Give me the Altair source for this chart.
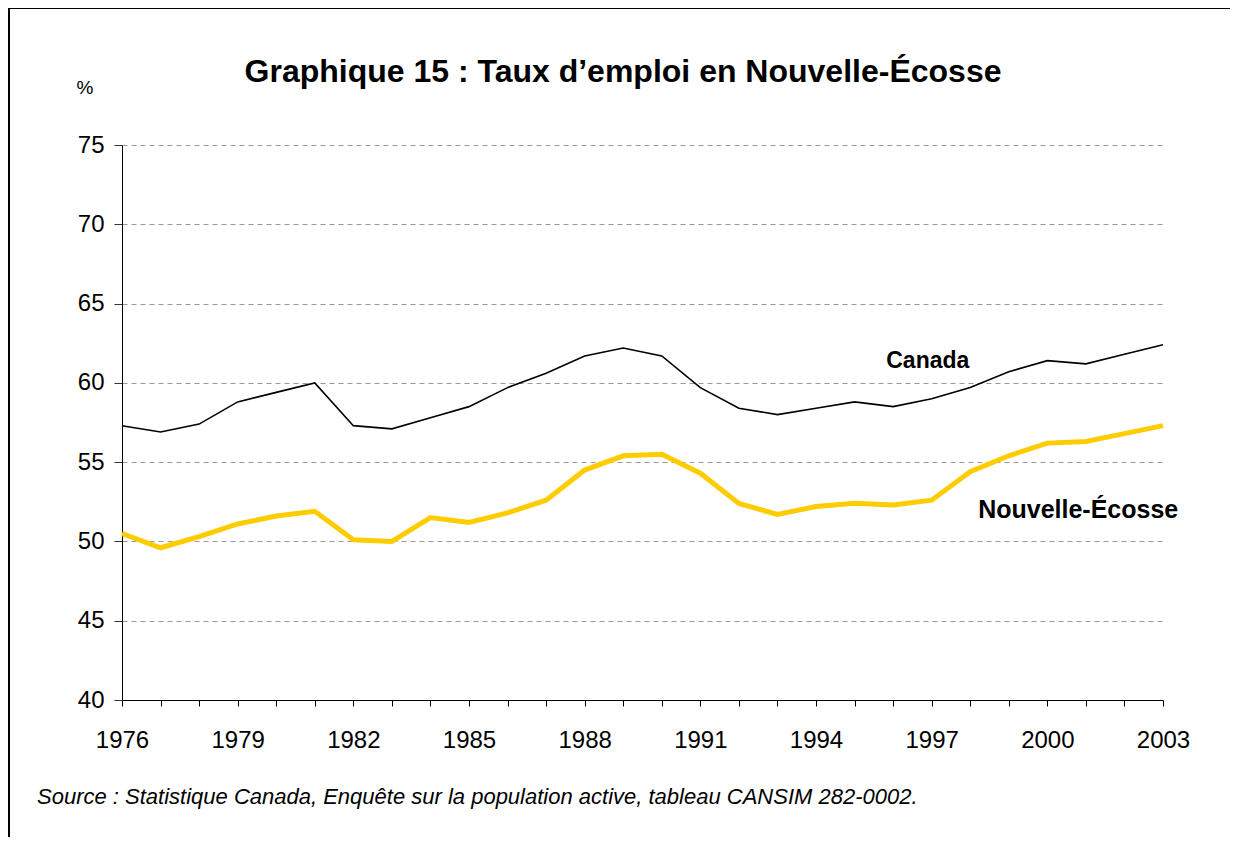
import altair as alt
import pandas as pd

years = list(range(1976, 2004))
canada = [57.3, 56.9, 57.4, 58.8, 59.4, 60.0, 57.3, 57.1, 57.8, 58.5, 59.7, 60.6, 61.7, 62.2,
          61.7, 59.7, 58.4, 58.0, 58.4, 58.8, 58.5, 59.0, 59.7, 60.7, 61.4, 61.2, 61.8, 62.4]
nouvelle_ecosse = [50.5, 49.6, 50.3, 51.1, 51.6, 51.9, 50.1, 50.0, 51.5, 51.2, 51.8, 52.6, 54.5, 55.4,
                   55.5, 54.3, 52.4, 51.7, 52.2, 52.4, 52.3, 52.6, 54.4, 55.4, 56.2, 56.3, 56.8, 57.3]
series_names = ["Canada", "Nouvelle-Écosse"]
series_colors = ["#000000", "#FFCC00"]
series_widths = [1.6, 5]
label_x = [1996.9, 2000.8]
label_y = [61.4, 52.0]

title_text = "Graphique 15 : Taux d’emploi en Nouvelle-Écosse"
source_text = "Source : Statistique Canada, Enquête sur la population active, tableau CANSIM 282-0002."
y_ticks = [40, 45, 50, 55, 60, 65, 70, 75]

FONT = "Liberation Sans"
W, H = 1041, 555

rows = []
for name, vals in zip(series_names, [canada, nouvelle_ecosse]):
    for yr, v in zip(years, vals):
        rows.append({"annee": yr, "taux": v, "serie": name})
df = pd.DataFrame(rows)

x_scale = alt.Scale(domain=[1976, 2003], nice=False, zero=False)
y_scale = alt.Scale(domain=[40, 75], nice=False, zero=False)

x_axis = alt.Axis(values=years, format="d", grid=False, tickSize=6, tickColor="#000",
                  domainColor="#000", labelFontSize=24, labelFont=FONT, labelColor="#000",
                  labelPadding=22, labelFlush=False, labelOverlap=False,
                  labelExpr="(datum.value - 1976) % 3 == 0 ? datum.label : ''", title=None)
y_axis = alt.Axis(values=y_ticks, grid=True, gridColor="#999999", gridDash=[5, 4], gridWidth=1,
                  tickSize=8, tickColor="#333", domainColor="#000", labelFontSize=24,
                  labelFont=FONT, labelColor="#000", labelPadding=10, title=None)

X = alt.X("annee:Q", scale=x_scale, axis=x_axis)
Y = alt.Y("taux:Q", scale=y_scale, axis=y_axis)

def line_layer(i):
    return alt.Chart(df[df.serie == series_names[i]]).mark_line(
        color=series_colors[i], strokeWidth=series_widths[i], strokeJoin="miter"
    ).encode(x=X, y=Y)

lab_df = pd.DataFrame({"annee": label_x, "taux": label_y, "t": series_names})
labels = alt.Chart(lab_df).mark_text(font=FONT, fontWeight="bold", color="#000",
                                     align="center", baseline="middle").encode(
    x=X, y=Y, text="t:N",
    size=alt.Size("t:N", scale=alt.Scale(domain=series_names, range=[23, 25]), legend=None))

def text_layer(txt, x, y, size, **kw):
    return alt.Chart(pd.DataFrame({"t": [txt]})).mark_text(
        font=FONT, fontSize=size, color="#000", baseline="middle", **kw
    ).encode(x=alt.value(x), y=alt.value(y), text="t:N")

title = text_layer(title_text, 501, -73, 32, fontWeight="bold", align="center")
pct = text_layer("%", -37, -57, 19, align="center")
source = text_layer(source_text, -85, 652, 22, fontStyle="italic", align="left")

frame_top = alt.Chart(pd.DataFrame({"a": [0]})).mark_rule(color="#000", strokeWidth=2, clip=False).encode(
    x=alt.value(-114), x2=alt.value(1110), y=alt.value(-137))
frame_left = alt.Chart(pd.DataFrame({"a": [0]})).mark_rule(color="#000", strokeWidth=2, clip=False).encode(
    x=alt.value(-113), y=alt.value(-137), y2=alt.value(700))

chart = alt.layer(line_layer(0), line_layer(1), labels, title, pct, source, frame_top, frame_left).properties(
    width=W, height=H,
    autosize=alt.AutoSizeParams(type="none"),
    padding={"left": 114, "top": 137, "right": 67, "bottom": 137},
).configure(background="white").configure_view(stroke="transparent", strokeWidth=0)

chart.save("out.html", embed_options={"renderer": "svg", "actions": False})
